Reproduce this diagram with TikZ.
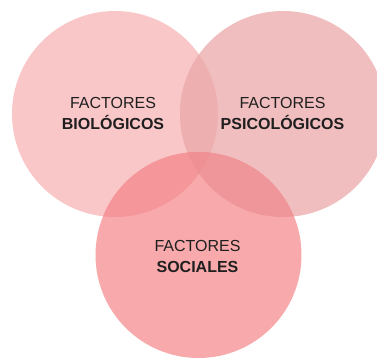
\documentclass[tikz,border=0pt]{standalone}
\usepackage{fontspec}
\setmainfont{Liberation Sans}
\begin{document}
\begin{tikzpicture}[x=1pt,y=1pt,
  venn/.style={circle,minimum size=206pt,inner sep=0pt,draw=none},
  lbl/.style={align=center,text=black!88,font=\fontsize{16}{21}\selectfont,inner sep=0pt}]
\definecolor{cL}{RGB}{250,199,200}
\definecolor{cR}{RGB}{241,190,191}
\definecolor{cB}{RGB}{248,169,171}
\definecolor{cLR}{RGB}{238,175,177}
\definecolor{cLB}{RGB}{244,150,154}
\definecolor{cRB}{RGB}{238,150,153}
\definecolor{cLRB}{RGB}{239,144,149}
\useasboundingbox (0,0) rectangle (377,358);
\clip (0,0) rectangle (377,358);
\node[venn,fill=cL] (bio) at (115,244) {};
\node[venn,fill=cR] (psi) at (283,244) {};
\node[venn,fill=cB] (soc) at (198.5,103) {};
\begin{scope}
  \clip (bio.center) circle (103);
  \fill[cLR] (psi.center) circle (103);
  \fill[cLB] (soc.center) circle (103);
  \clip (psi.center) circle (103);
  \fill[cLRB] (soc.center) circle (103);
\end{scope}
\begin{scope}
  \clip (psi.center) circle (103);
  \clip (soc.center) circle (103);
  \path[fill=cRB,even odd rule] (soc.center) circle (103) (bio.center) circle (103);
\end{scope}
\node[lbl] (tbio) at (113,245) {FACTORES\\\textbf{BIOLÓGICOS}};
\node[lbl] (tpsi) at (282.5,245) {FACTORES\\\textbf{PSICOLÓGICOS}};
\node[lbl] (tsoc) at (197.5,102) {FACTORES\\\textbf{SOCIALES}};
\end{tikzpicture}
\end{document}
